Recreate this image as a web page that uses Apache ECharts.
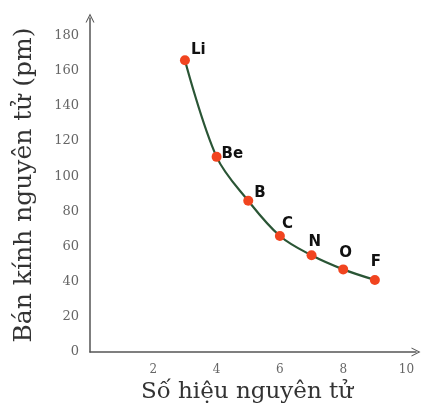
<!DOCTYPE html>
<html>
<head>
<meta charset="utf-8">
<script src="https://cdn.jsdelivr.net/npm/echarts@6/dist/echarts.min.js"></script>
<style>
  html, body { margin: 0; padding: 0; background: #fff; }
  #main { width: 422px; height: 419px; }
</style>
</head>
<body>
<div id="main"></div>
<script>
var elements = ['Li', 'Be', 'B', 'C', 'N', 'O', 'F'];
var atomicNumbers = [3, 4, 5, 6, 7, 8, 9];
var radii = [166, 111, 86, 66, 55, 47, 41];

// label placement for each point
var labelOffsets = [[-4, -10], [-5, -3], [-4, -8], [-8, -12], [-13, -13], [-14, -16], [-14, -18]];

var axisColor = '#555';
var chevron = 'path://M0,10 L5,0 L10,10 L8.8,10 L5,2.4 L1.2,10 Z';

var data = atomicNumbers.map(function (x, i) {
  return {
    value: [x, radii[i]],
    name: elements[i],
    label: { offset: labelOffsets[i] }
  };
});

var option = {
  animation: false,
  grid: { left: 90, right: 6, top: 18, bottom: 67 },
  xAxis: {
    type: 'value',
    min: 0,
    max: 10.3,
    interval: 2,
    name: 'Số hiệu nguyên tử',
    nameLocation: 'middle',
    nameGap: 22,
    nameTextStyle: { fontFamily: 'DejaVu Serif', fontSize: 23, color: '#333', verticalAlign: 'top', padding: [0, 12, 0, 0] },
    axisLine: { lineStyle: { color: axisColor, width: 1.5 }, symbol: ['none', chevron], symbolSize: [9, 11] },
    axisTick: { show: false },
    splitLine: { show: false },
    axisLabel: {
      showMinLabel: false,
      showMaxLabel: false,
      margin: 12,
      fontFamily: 'DejaVu Serif',
      fontSize: 12,
      color: '#666'
    }
  },
  yAxis: {
    type: 'value',
    min: 0,
    max: 190,
    interval: 20,
    name: 'Bán kính nguyên tử (pm)',
    nameLocation: 'middle',
    nameGap: 53,
    nameTextStyle: { fontFamily: 'DejaVu Serif', fontSize: 25, color: '#333' },
    axisLine: { show: true, lineStyle: { color: axisColor, width: 1.5 }, symbol: ['none', chevron], symbolSize: [9, 11] },
    axisTick: { show: false },
    splitLine: { show: false },
    axisLabel: {
      showMaxLabel: false,
      margin: 11,
      fontFamily: 'DejaVu Serif',
      fontSize: 13,
      color: '#666'
    }
  },
  series: [{
    type: 'line',
    smooth: 0.35,
    data: data,
    symbol: 'circle',
    symbolSize: 10,
    itemStyle: { color: '#f1441f' },
    lineStyle: { color: '#2a5535', width: 2.2 },
    label: {
      show: true,
      position: 'right',
      formatter: '{b}',
      fontFamily: 'DejaVu Sans',
      fontWeight: 'bold',
      fontSize: 15,
      color: '#111'
    }
  }]
};

var myChart = echarts.init(document.getElementById('main'));
myChart.setOption(option);
</script>
</body>
</html>
